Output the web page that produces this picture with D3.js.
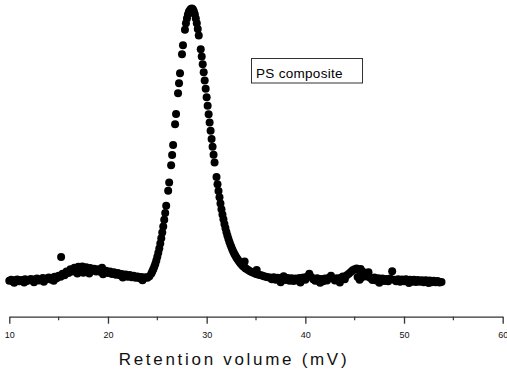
<!DOCTYPE html>
<html><head><meta charset="utf-8">
<script src="https://cdn.jsdelivr.net/npm/d3@7"></script>
<style>body{margin:0;background:#fff}svg{display:block}text{font-family:"Liberation Sans",Arial,sans-serif}</style>
</head><body><div id="chart"></div>
<script>
const xTicks = [10, 20, 30, 40, 50, 60];
const xMinorTicks = [15, 25, 35, 45, 55];
const xTitle = "Retention volume (mV)";
const legendLabel = "PS composite";

// [retention volume, detector signal (arbitrary units)]
const baselineLeft = [
 [10.0,0.8],[10.2,1.2],[10.4,0.5],[10.5,0.1],[10.6,1.0],[10.8,1.3],[11.0,0.6],[11.2,1.1],[11.4,0.8],[11.5,0.2],[11.6,1.4],[11.8,0.7],
 [12.0,1.2],[12.2,1.5],[12.4,0.8],[12.5,0.3],[12.6,1.3],[12.8,1.6],[13.0,0.9],[13.2,1.4],[13.4,1.8],[13.5,0.5],[13.6,1.1],[13.8,1.6],
 [14.0,2.0],[14.2,1.3],[14.4,1.9],[14.5,0.8],[14.6,2.3],[14.8,1.7],[15.0,2.6],[15.2,2.3],[15.25,9.5],[15.4,3.4],[15.6,2.8],
 [15.8,4.2],[16.0,3.6],[16.2,5.0],[16.4,4.2],[16.6,5.6],[16.8,4.5],[16.9,3.5],[17.0,5.9],[17.2,4.9],[17.4,6.0],
 [17.5,3.7],[17.6,5.2],[17.8,5.7],[18.0,4.7],[18.1,3.5],[18.2,5.5],[18.4,4.5],[18.6,5.2],[18.8,4.2],[19.0,5.0],
 [19.2,4.1],[19.4,5.6],[19.5,3.2],[19.6,3.9],[19.8,4.5],[20.0,3.6],[20.2,4.2],[20.4,3.3],[20.6,3.9],[20.8,3.0],[21.0,3.6],
 [21.2,2.8],[21.4,3.3],[21.5,2.0],[21.6,2.6],[21.8,3.1],[22.0,2.3],[22.2,2.9],[22.4,2.1],[22.6,2.6],[22.8,1.9],[23.0,2.4],
 [23.2,1.7],[23.4,2.2],[23.5,1.0],[23.6,1.6],[23.8,2.1],[24.0,1.9],[24.2,2.5]
];
const peak = [
 [24.4,3.5],[24.5,4.3],[24.6,5.1],[24.7,6.0],[24.8,7.0],[24.9,8.2],[25.0,9.6],[25.1,11.0],[25.2,12.6],[25.3,14.4],
 [25.4,16.3],[25.5,18.4],[25.6,20.6],[25.7,23.0],[25.8,25.5],[25.9,28.1],[26.1,33.6],[26.2,36.6],
 [26.4,42.9],[26.5,46.6],[26.6,50.3],[26.8,57.8],[26.9,61.6],[27.1,69.1],[27.2,72.8],[27.3,76.4],
 [27.5,83.3],[27.6,86.6],[27.8,92.3],[27.9,94.6],[28.0,96.4],[28.1,97.8],[28.2,98.8],[28.3,99.4],
 [28.4,99.8],[28.5,100.0],[28.6,99.7],[28.7,99.0],[28.8,97.9],[28.9,96.4],[29.0,94.6],[29.1,92.5],[29.2,90.2],
 [29.4,85.2],[29.5,82.5],[29.6,79.7],[29.7,76.8],[29.8,73.8],[29.9,70.8],[30.0,67.7],[30.1,64.6],[30.2,61.5],[30.3,58.5],
 [30.4,55.5],[30.5,52.5],[30.6,49.6],[30.7,46.7],[30.8,43.9],[31.0,38.6],[31.1,36.0],[31.2,33.5],[31.3,31.2],
 [31.4,29.0],[31.5,26.9],[31.6,25.0],[31.7,23.2],[31.8,21.5],[31.9,20.0],[32.0,18.6],[32.1,17.3],[32.2,16.1],[32.3,15.0],
 [32.4,14.0],[32.5,13.1],[32.6,12.2],[32.7,11.4],[32.8,10.7],[32.9,10.0],[33.0,9.4],[33.1,8.8],[33.2,8.3],[33.3,7.8],
 [33.4,7.3],[33.5,6.9],[33.6,6.5],[33.7,6.1],[33.8,5.8],[33.85,7.8],[33.9,5.5],[34.0,5.2],[34.2,4.7],[34.4,4.3],
 [34.6,3.9],[34.8,3.6],[35.0,3.3],[35.07,4.7],[35.2,3.1],[35.4,2.9],[35.6,2.7],[35.8,2.5],[36.0,2.3],[36.2,2.1]
];
const baselineRight = [
 [36.4,2.0],[36.6,1.4],[36.8,2.1],[37.0,1.2],[37.2,1.9],[37.4,1.0],[37.5,0.3],[37.6,1.8],[37.8,2.5],[38.0,1.1],[38.2,1.8],
 [38.4,0.8],[38.6,1.7],[38.8,0.7],[39.0,1.6],[39.2,0.9],[39.4,1.8],[39.5,0.2],[39.6,1.0],[39.8,2.0],[40.0,1.2],[40.2,2.4],
 [40.4,3.4],[40.6,2.2],[40.8,1.4],[41.0,0.8],[41.2,1.7],[41.4,0.7],[41.5,0.1],[41.6,1.5],[41.8,0.6],[42.0,1.6],[42.2,0.9],
 [42.4,1.9],[42.6,2.6],[42.8,1.6],[43.0,0.9],[43.2,1.7],[43.4,0.8],[43.5,0.2],[43.6,1.9],[43.8,2.4],[44.0,1.4],[44.2,2.8],
 [44.4,3.4],[44.6,4.0],[44.8,4.6],[45.0,5.0],[45.2,5.3],[45.3,2.2],[45.4,4.8],[45.5,1.2],[45.6,5.1],[45.7,2.0],[45.8,4.2],
 [46.0,3.2],[46.2,2.4],[46.4,3.9],[46.6,1.8],[46.8,1.1],[47.0,2.0],[47.2,0.9],[47.4,1.7],[47.5,0.1],[47.6,0.8],[47.8,1.6],
 [48.0,0.7],[48.2,1.5],[48.4,0.6],[48.6,1.6],[48.8,4.3],[49.0,1.2],[49.2,0.6],[49.4,1.4],[49.6,0.5],[49.8,1.3],
 [50.0,0.6],[50.2,1.4],[50.4,0.5],[50.5,0.0],[50.6,1.2],[50.8,0.5],[51.0,1.2],[51.2,0.4],[51.4,1.1],[51.6,0.5],[51.8,1.0],
 [52.0,0.3],[52.2,1.0],[52.4,0.4],[52.5,0.0],[52.6,0.9],[52.8,0.3],[53.0,0.8],[53.2,0.3],[53.4,0.7],[53.6,0.2],[53.8,0.4]
];

const W = 507, H = 369;
const svg = d3.select("#chart").append("svg").attr("width", W).attr("height", H);

const x = d3.scaleLinear().domain([10, 60]).range([9.3, 502.7]);
const y = d3.scaleLinear().domain([0, 100]).range([283, 8.5]);

const points = baselineLeft.concat(peak, baselineRight);

svg.append("g").selectAll("circle").data(points).join("circle")
  .attr("cx", d => x(d[0])).attr("cy", d => y(d[1])).attr("r", 4)
  .attr("fill", "#000");

// x axis
const axisY = 316.7;
const gx = svg.append("g").attr("transform", `translate(0,${axisY})`)
  .call(d3.axisBottom(x).tickValues(xTicks).tickSize(7).tickSizeOuter(0).tickPadding(8).tickFormat(d3.format("d")));
gx.select(".domain").attr("stroke", "#333").attr("stroke-width", 1.3);
gx.selectAll(".tick line").attr("stroke", "#333").attr("stroke-width", 1.3);
gx.selectAll(".tick text").attr("font-size", 9).attr("fill", "#111")
  .attr("font-family", "Liberation Sans, Arial, sans-serif");
svg.append("g").selectAll("line").data(xMinorTicks).join("line")
  .attr("x1", d => x(d)).attr("x2", d => x(d))
  .attr("y1", axisY).attr("y2", axisY + 3.5)
  .attr("stroke", "#333").attr("stroke-width", 1.2);

svg.append("text").attr("x", 234).attr("y", 365).attr("text-anchor", "middle")
  .attr("font-size", 17).attr("letter-spacing", "2.7px").attr("fill", "#111")
  .text(xTitle);

// label box
svg.append("rect").attr("x", 251.5).attr("y", 58.5).attr("width", 111).attr("height", 24.5)
  .attr("fill", "#fff").attr("stroke", "#333").attr("stroke-width", 1);
svg.append("text").attr("x", 256).attr("y", 77.5).attr("font-size", 13.5)
  .attr("letter-spacing", "0.3px").attr("fill", "#000").text(legendLabel);
</script></body></html>
